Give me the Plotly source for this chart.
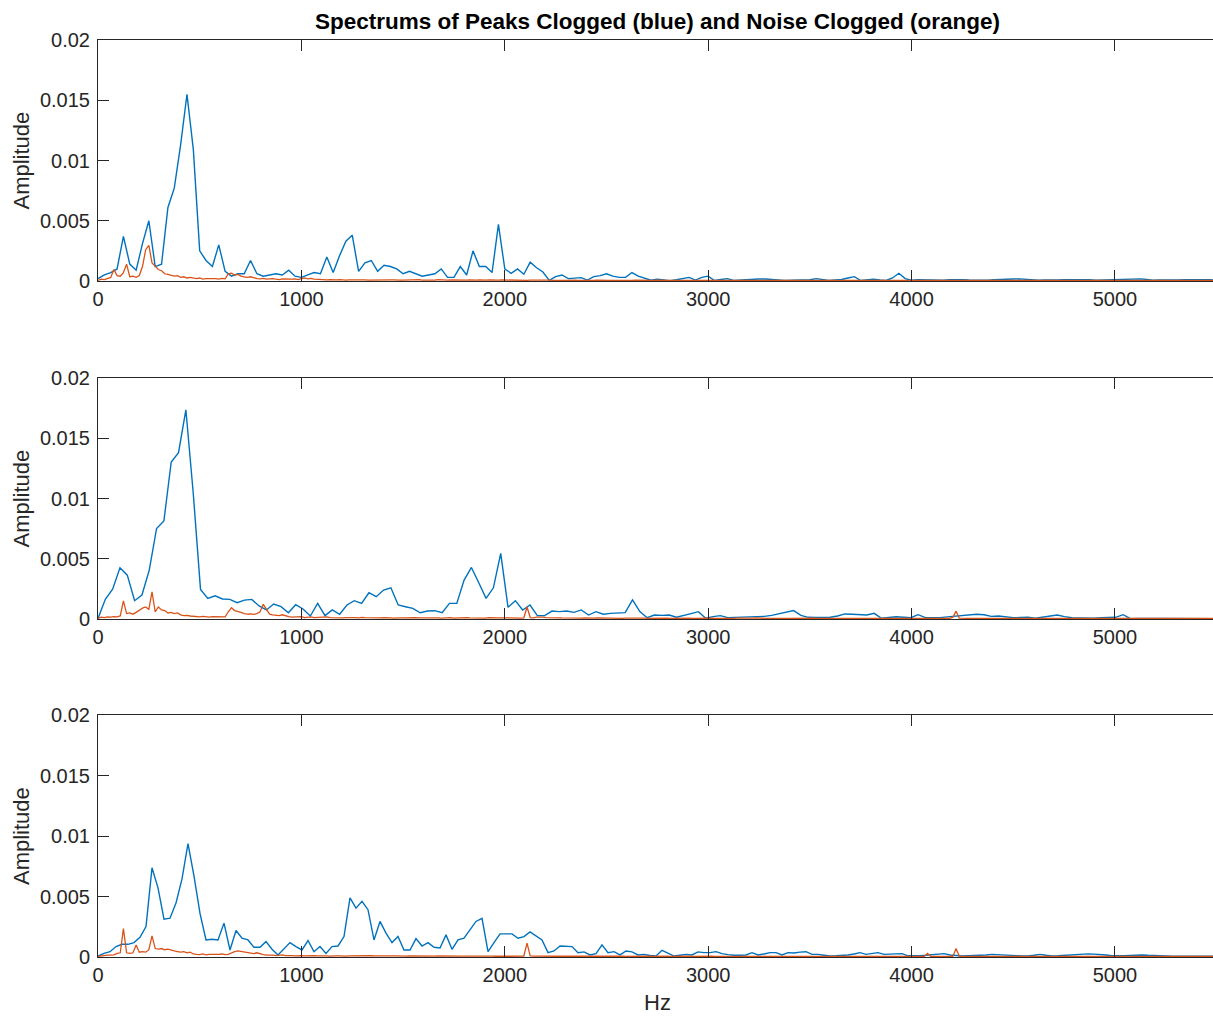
import numpy as np
import plotly.graph_objects as go

# Amplitudes are stored in units of 1e-5
AMP_UNIT = 1e-5

# Peaks clogged spectra (blue): bin spacing in Hz for each recording
peaks_step_hz = [31.25, 36.0, 29.5]

peaks_1 = [
    20, 50, 70, 100, 370, 140, 90, 310, 500, 120,
    140, 610, 770, 1130, 1550, 1090, 250, 170, 120, 300,
    80, 40, 60, 60, 170, 60, 40, 50, 60, 50,
    90, 40, 30, 50, 70, 60, 200, 70, 210, 330,
    380, 80, 150, 170, 80, 130, 120, 100, 60, 80,
    60, 40, 50, 60, 100, 30, 30, 120, 50, 250,
    120, 120, 70, 470, 100, 64, 100, 56, 156, 110,
    75, 5, 36, 50, 20, 22, 28, 8, 36, 45,
    60, 40, 30, 30, 70, 40, 20, 6, 15, 8,
    3, 10, 20, 30, 8, 30, 40, 4, 12, 20,
    5, 8, 15, 18, 17, 17, 10, 8, 4, 4,
    4, 4, 10, 20, 10, 4, 8, 12, 25, 36,
    4, 8, 14, 8, 4, 25, 64, 20, 6, 10,
    8, 12, 8, 6, 10, 12, 10, 8, 6, 8,
    6, 10, 10, 14, 16, 18, 12, 8, 6, 8,
    6, 8, 10, 10, 14, 16, 10, 6, 8, 10,
    8, 8, 10, 14, 18, 12, 6, 8, 10, 8,
    8, 10, 8, 8, 10, 10, 8,
]

peaks_2 = [
    5, 163, 248, 425, 364, 152, 199, 406, 751, 814,
    1303, 1380, 1736, 1050, 246, 171, 193, 166, 163, 135,
    157, 163, 108, 75, 124, 102, 52, 119, 83, 25,
    130, 28, 75, 39, 116, 152, 130, 218, 185, 240,
    259, 116, 102, 88, 52, 66, 69, 52, 130, 130,
    323, 428, 301, 171, 259, 544, 97, 152, 75, 116,
    28, 28, 66, 61, 66, 55, 75, 33, 61, 40,
    47, 50, 53, 158, 61, 11, 33, 30, 33, 15,
    33, 45, 61, 6, 20, 28, 11, 14, 12, 14,
    18, 22, 30, 42, 55, 70, 30, 14, 12, 14,
    14, 25, 42, 40, 39, 33, 47, 6, 12, 19,
    15, 11, 36, 11, 11, 11, 18, 22, 30, 33,
    39, 35, 22, 25, 15, 11, 12, 14, 6, 15,
    25, 33, 20, 10, 8, 6, 6, 10, 14, 14,
    36, 3, 5, 3, 3, 5, 4, 3, 5, 3,
    4, 3, 3, 3,
]

peaks_3 = [
    8, 30, 44, 86, 105, 105, 119, 163, 252, 737,
    571, 313, 321, 446, 645, 936, 668, 360, 141, 147,
    141, 280, 58, 219, 155, 141, 80, 80, 127, 64,
    17, 72, 119, 86, 58, 136, 44, 86, 30, 86,
    91, 169, 488, 404, 460, 391, 141, 294, 197, 119,
    169, 58, 58, 152, 91, 119, 80, 75, 183, 64,
    141, 155, 224, 294, 319, 44, 119, 191, 191, 191,
    155, 169, 208, 175, 141, 36, 50, 91, 86, 86,
    36, 42, 17, 28, 100, 36, 44, 17, 50, 42,
    17, 22, 12, 8, 55, 28, 8, 15, 22, 17,
    42, 36, 36, 44, 28, 20, 14, 15, 17, 36,
    17, 25, 36, 36, 17, 36, 33, 40, 44, 22,
    22, 15, 8, 10, 11, 17, 25, 36, 22, 28,
    36, 22, 22, 22, 28, 10, 8, 11, 14, 17,
    22, 28, 17, 12, 8, 10, 11, 14, 17, 22,
    18, 15, 14, 11, 9, 8, 14, 22, 14, 8,
    10, 14, 18, 22, 28, 26, 24, 22, 16, 10,
    8, 10, 12, 15, 17, 14, 11, 9, 8, 7,
    7, 7, 6, 6, 6, 6, 6,
]

# Noise clogged spectra (orange): common bin spacing in Hz
noise_step_hz = 15.625

noise_1 = [
    5, 15, 12, 20, 30, 95, 45, 40, 70, 140, 36, 40, 30, 45, 120, 260, 295, 150, 120, 95,
    85, 60, 55, 50, 40, 45, 30, 35, 25, 30, 25, 20, 25, 15, 20, 22, 18, 20, 15, 22,
    18, 60, 65, 50, 55, 40, 35, 30, 35, 25, 20, 18, 22, 15, 18, 20, 15, 12, 18, 15,
    12, 15, 18, 12, 20, 25, 18, 22, 15, 12, 10, 12, 9, 11, 8, 10, 12, 9, 8, 10,
    11, 8, 9, 12, 10, 8, 9, 7, 10, 8, 12, 14, 10, 9, 11, 8, 7, 9, 10, 8,
    9, 11, 8, 7, 10, 9, 8, 12, 9, 7, 8, 10, 9, 8, 7, 9, 8, 10, 7, 8,
    9, 7, 8, 10, 8, 6, 7, 9, 8, 7, 6, 8, 7, 9, 8, 6, 7, 8, 6, 7,
    8, 6, 7, 6, 8, 7, 6, 5, 7, 6, 8, 6, 5, 7, 6, 5, 6, 7, 5, 6,
    7, 5, 6, 5, 6, 7, 5, 6, 5, 7, 6, 5, 6, 5, 5, 6, 7, 5, 6, 5,
    6, 5, 5, 6, 5, 7, 5, 6, 5, 5, 6, 5, 6, 5, 5, 6, 5, 5, 6, 5,
    5, 6, 5, 5, 6, 5, 5, 6, 5, 5, 4, 5, 6, 5, 5, 4, 5, 5, 6, 5,
    4, 5, 5, 6, 5, 4, 5, 5, 4, 5, 6, 5, 4, 5, 5, 4, 5, 4, 5, 5,
    4, 5, 5, 4, 5, 6, 4, 5, 4, 5, 5, 4, 5, 4, 5, 5, 4, 5, 4, 4,
    5, 4, 5, 5, 4, 6, 4, 5, 4, 5, 4, 5, 5, 4, 5, 4, 4, 5, 4, 5,
    4, 5, 4, 4, 5, 4, 5, 4, 4, 5, 4, 4, 5, 4, 5, 4, 4, 5, 4, 4,
    5, 4, 4, 5, 4, 4, 5, 4, 4, 5, 4, 4, 4, 5, 4, 4, 5, 4, 4, 4,
    5, 4, 4, 4, 5, 4, 4, 4, 5, 4, 4, 4, 5, 4, 4, 4, 4, 5, 4, 4,
    4, 5, 4, 4, 4, 4, 5, 4, 4, 4, 4, 4, 4,
]

noise_2 = [
    5, 15, 12, 18, 15, 20, 18, 25, 150, 45, 50, 40, 55, 75, 90, 100, 80, 225, 60, 100,
    75, 70, 50, 55, 45, 50, 35, 28, 30, 25, 22, 20, 18, 22, 20, 15, 20, 18, 22, 20,
    18, 60, 94, 70, 65, 55, 45, 40, 42, 38, 45, 60, 122, 75, 40, 35, 30, 28, 35, 25,
    20, 15, 18, 15, 20, 12, 15, 18, 12, 15, 12, 15, 18, 12, 10, 14, 12, 9, 11, 13,
    10, 12, 9, 14, 11, 10, 8, 12, 10, 9, 11, 13, 10, 8, 12, 10, 9, 11, 8, 10,
    12, 9, 10, 8, 11, 9, 12, 10, 8, 10, 9, 11, 8, 10, 9, 8, 12, 10, 9, 8,
    10, 9, 8, 11, 9, 8, 10, 9, 8, 9, 10, 8, 9, 8, 10, 100, 12, 9, 15, 18,
    15, 12, 10, 9, 8, 10, 9, 8, 7, 9, 8, 7, 8, 9, 7, 8, 7, 9, 8, 7,
    8, 7, 6, 8, 7, 6, 7, 8, 6, 7, 6, 8, 7, 6, 7, 6, 7, 8, 6, 7,
    6, 7, 6, 8, 7, 6, 7, 6, 7, 6, 5, 7, 6, 7, 6, 5, 6, 7, 6, 5,
    6, 7, 6, 5, 6, 5, 7, 9, 6, 5, 6, 5, 6, 7, 5, 6, 5, 6, 5, 6,
    5, 6, 5, 6, 5, 7, 5, 6, 5, 5, 6, 5, 6, 5, 5, 6, 5, 6, 5, 5,
    6, 5, 5, 6, 5, 5, 6, 5, 5, 6, 5, 5, 6, 5, 5, 6, 5, 5, 5, 6,
    5, 5, 6, 5, 5, 6, 5, 5, 6, 15, 65, 8, 5, 6, 5, 5, 6, 5, 5, 5,
    6, 5, 5, 5, 6, 5, 5, 5, 6, 5, 5, 5, 6, 5, 5, 5, 5, 6, 5, 5,
    5, 6, 5, 5, 5, 5, 6, 5, 5, 5, 5, 6, 5, 5, 5, 5, 5, 6, 5, 5,
    5, 5, 6, 5, 5, 5, 5, 5, 6, 5, 5, 5, 5, 5, 6, 5, 5, 5, 5, 5,
    6, 5, 5, 5, 5, 5, 5, 6, 5, 5, 5, 5, 5,
]

noise_3 = [
    5, 10, 12, 15, 15, 18, 30, 35, 235, 35, 30, 35, 100, 40, 45, 40, 60, 175, 70, 65,
    70, 60, 65, 55, 50, 45, 40, 45, 35, 40, 25, 22, 20, 25, 18, 22, 20, 18, 22, 25,
    20, 22, 35, 45, 50, 45, 40, 35, 30, 28, 35, 25, 20, 15, 18, 15, 12, 15, 18, 12,
    15, 12, 10, 14, 12, 10, 12, 9, 11, 10, 12, 9, 10, 8, 11, 9, 10, 12, 8, 9,
    10, 8, 11, 9, 8, 10, 12, 9, 8, 10, 9, 11, 8, 9, 10, 8, 9, 8, 10, 9,
    8, 9, 10, 8, 9, 8, 7, 9, 8, 10, 8, 7, 9, 8, 7, 8, 9, 7, 8, 7,
    8, 7, 9, 8, 7, 6, 8, 7, 8, 6, 7, 8, 6, 7, 8, 115, 9, 7, 6, 8,
    7, 6, 8, 7, 6, 7, 6, 8, 7, 6, 7, 6, 7, 6, 8, 6, 7, 6, 7, 6,
    6, 7, 6, 5, 7, 6, 5, 6, 7, 5, 6, 5, 6, 7, 5, 6, 5, 6, 5, 6,
    5, 6, 5, 6, 5, 5, 6, 5, 6, 5, 5, 6, 5, 6, 5, 5, 6, 5, 5, 6,
    5, 5, 6, 5, 5, 6, 5, 5, 5, 6, 5, 5, 6, 5, 5, 5, 6, 5, 5, 5,
    6, 5, 5, 5, 6, 5, 5, 5, 6, 5, 5, 5, 5, 6, 5, 5, 5, 6, 5, 5,
    5, 5, 6, 5, 5, 5, 5, 6, 5, 5, 5, 5, 6, 5, 5, 5, 5, 5, 6, 5,
    5, 30, 6, 5, 5, 5, 6, 5, 5, 5, 70, 8, 5, 5, 5, 6, 5, 5, 5, 5,
    5, 6, 5, 5, 5, 5, 5, 6, 5, 5, 5, 5, 5, 5, 6, 5, 5, 5, 5, 5,
    6, 5, 5, 5, 5, 5, 5, 6, 5, 5, 5, 5, 5, 5, 6, 5, 5, 5, 5, 5,
    5, 6, 5, 5, 5, 5, 5, 5, 6, 5, 5, 5, 5, 5, 5, 6, 5, 5, 5, 5,
    5, 5, 6, 5, 5, 5, 5, 5, 5, 6, 5, 5, 5,
]

x_ticks = [0, 1000, 2000, 3000, 4000, 5000]
x_tick_text = ["0", "1000", "2000", "3000", "4000", "5000"]
y_ticks = [0, 0.005, 0.01, 0.015, 0.02]
y_tick_text = ["0", "0.005", "0.01", "0.015", "0.02"]

TITLE = "Spectrums of Peaks Clogged (blue) and Noise Clogged (orange)"
Y_LABEL = "Amplitude"
X_LABEL = "Hz"

BLUE = "#0072BD"
ORANGE = "#D95319"
AXIS_COLOR = "#262626"
FONT = "Liberation Sans, Arial, Helvetica, sans-serif"

W, H = 1213, 1016
LEFT = 98
X_MAX = 5482
# vertical pixel extent (top, bottom) of each axes box
panel_px = [(40, 281), (378, 619), (715, 957)]

fig = go.Figure()
peaks = [peaks_1, peaks_2, peaks_3]
noises = [noise_1, noise_2, noise_3]

layout_axes = {}
annotations = []
for n in range(3):
    sfx = "" if n == 0 else str(n + 1)
    px_hz = np.arange(len(peaks[n])) * peaks_step_hz[n]
    fig.add_trace(go.Scatter(
        x=px_hz, y=np.array(peaks[n]) * AMP_UNIT, mode="lines",
        line=dict(color=BLUE, width=1.4), xaxis="x" + sfx, yaxis="y" + sfx,
        showlegend=False, hoverinfo="skip"))
    nx_hz = np.arange(len(noises[n])) * noise_step_hz
    fig.add_trace(go.Scatter(
        x=nx_hz, y=np.array(noises[n]) * AMP_UNIT, mode="lines",
        line=dict(color=ORANGE, width=1.3), xaxis="x" + sfx, yaxis="y" + sfx,
        showlegend=False, hoverinfo="skip"))

    top, bot = panel_px[n]
    dom = [1 - bot / H, 1 - top / H]
    layout_axes["xaxis" + sfx] = dict(
        domain=[0, 1], range=[0, X_MAX], anchor="y" + sfx, automargin=False,
        tickmode="array", tickvals=x_ticks, ticktext=x_tick_text,
        ticks="inside", ticklen=11, tickwidth=1, tickcolor=AXIS_COLOR,
        showline=True, linecolor=AXIS_COLOR, linewidth=1, mirror="ticks",
        showgrid=False, zeroline=False,
        tickfont=dict(family=FONT, size=20, color=AXIS_COLOR))
    layout_axes["yaxis" + sfx] = dict(
        domain=dom, range=[0, 0.02], anchor="x" + sfx, automargin=False,
        tickmode="array", tickvals=y_ticks, ticktext=y_tick_text,
        ticks="inside", ticklen=11, tickwidth=1, tickcolor=AXIS_COLOR,
        ticklabelstandoff=3,
        showline=True, linecolor=AXIS_COLOR, linewidth=1, mirror=False,
        showgrid=False, zeroline=False,
        tickfont=dict(family=FONT, size=20, color=AXIS_COLOR))
    annotations.append(dict(
        text=Y_LABEL, textangle=-90, xref="paper", x=0, xshift=21 - LEFT,
        yref="paper", y=1 - (top + bot) / 2 / H, xanchor="center", yanchor="middle",
        showarrow=False, font=dict(family=FONT, size=22, color=AXIS_COLOR)))

annotations.append(dict(
    text="<b>" + TITLE + "</b>", xref="x", x=2750, yref="paper", y=1 - 22 / H,
    xanchor="center", yanchor="middle", showarrow=False,
    font=dict(family=FONT, size=22.5, color="#000000")))
annotations.append(dict(
    text=X_LABEL, xref="x3", x=2750, yref="paper", y=1 - 1002 / H,
    xanchor="center", yanchor="middle", showarrow=False,
    font=dict(family=FONT, size=22, color=AXIS_COLOR)))

fig.update_layout(
    width=W, height=H,
    margin=dict(l=LEFT, r=0, t=0, b=0, autoexpand=False),
    paper_bgcolor="white", plot_bgcolor="white",
    annotations=annotations,
    **layout_axes)

fig.write_html("out.html")
